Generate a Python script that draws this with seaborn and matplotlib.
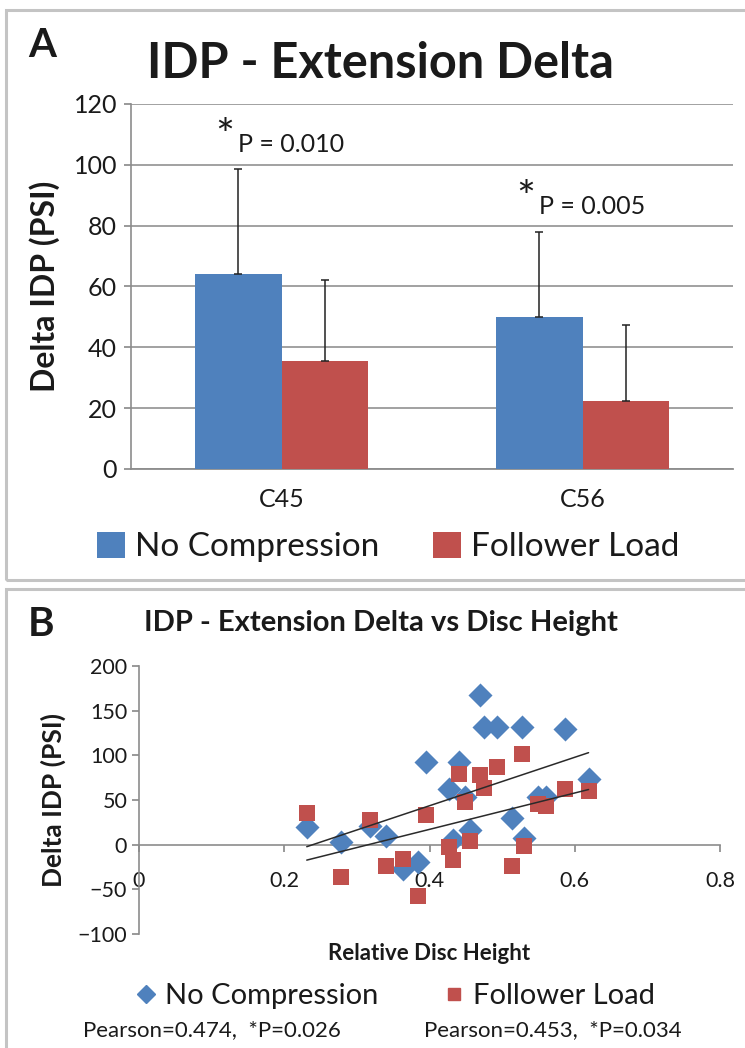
import numpy as np
import pandas as pd
import matplotlib
matplotlib.use("Agg")
import matplotlib.pyplot as plt
from matplotlib.patches import Rectangle, Patch
from matplotlib.lines import Line2D
import seaborn as sns

# ---- data -------------------------------------------------------------
levels = ["C45", "C56"]
conditions = ["No Compression", "Follower Load"]
mean_no_comp = [64.0, 50.0]
mean_follower = [35.5, 22.5]
sd_no_comp = [34.5, 28.0]
sd_follower = [26.5, 24.7]
p_labels = ["P = 0.010", "P = 0.005"]

disc_height = [0.231, 0.278, 0.318, 0.340, 0.363, 0.384, 0.395, 0.427,
               0.432, 0.440, 0.449, 0.456, 0.470, 0.475, 0.493, 0.513,
               0.528, 0.530, 0.549, 0.561, 0.586, 0.619]
delta_no_comp = [20, 3, 21, 10, -27, -19, 92, 62, 5, 93, 53, 16,
                 168, 132, 132, 30, 132, 7, 53, 53, 130, 74]
delta_follower = [35, -36, 28, -24, -16, -57, 33, -3, -17, 79, 48, 4,
                  78, 63, 87, -24, 101, -2, 46, 43, 62, 60]
pearson_labels = ["Pearson=0.474,  *P=0.026", "Pearson=0.453,  *P=0.034"]

BLUE = "#4F81BD"
RED = "#C0504D"
AXIS_GRAY = "#8C8C8C"
TEXT = "#1a1a1a"

sns.set_theme(style="white")
plt.rcParams["font.family"] = ["Lato", "DejaVu Sans"]

W, H = 745, 1048
fig = plt.figure(figsize=(W / 100, H / 100), dpi=100)


def fx(px):
    return px / W


def fy(py):
    return 1 - py / H


# panel frames
for top, bottom in [(10, 580), (589, 1060)]:
    fig.patches.append(Rectangle((fx(6), fy(bottom)), fx(800), (bottom - top) / H,
                                 transform=fig.transFigure, fill=False,
                                 edgecolor="#C4C4C4", linewidth=2.2))

# ---- panel A: grouped bars ---------------------------------------------
axA = fig.add_axes([fx(131), fy(469), fx(733 - 131), (469 - 104) / H])
bars = pd.DataFrame({
    "level": levels * 2,
    "cond": [conditions[0]] * 2 + [conditions[1]] * 2,
    "delta": mean_no_comp + mean_follower,
})
sns.barplot(data=bars, x="level", y="delta", hue="cond", hue_order=conditions,
            palette=[BLUE, RED], width=0.573, errorbar=None, saturation=1,
            legend=False, ax=axA, zorder=3)
for p in axA.patches:
    p.set_edgecolor("none")

errs = sd_no_comp + sd_follower
means = mean_no_comp + mean_follower
centers = [p.get_x() + p.get_width() / 2 for p in axA.patches[:4]]
for cx, m, e in zip(centers, means, errs):
    axA.errorbar(cx, m, yerr=[[0], [e]], fmt="none", ecolor="#222222",
                 elinewidth=1.1, capsize=3, capthick=1.1, zorder=4)

axA.set_ylim(0, 120)
axA.set_xlim(-0.5, 1.5)
axA.set_yticks(np.arange(0, 121, 20))
axA.yaxis.grid(True, color="#9A9A9A", linewidth=1.3, zorder=0)
axA.set_axisbelow(True)
for s in ["top", "right"]:
    axA.spines[s].set_visible(False)
axA.spines["left"].set_color(AXIS_GRAY)
axA.spines["bottom"].set_color(AXIS_GRAY)
axA.spines["left"].set_linewidth(1.2)
axA.spines["bottom"].set_linewidth(1.3)
axA.tick_params(axis="y", direction="out", length=5, color=AXIS_GRAY,
                labelsize=18, labelcolor=TEXT, pad=5, left=True)
axA.tick_params(axis="x", length=0, labelsize=18, labelcolor=TEXT, pad=14)
axA.set_xlabel("")
axA.set_ylabel("Delta IDP (PSI)", fontsize=23, fontweight="bold", color=TEXT,
               labelpad=10)

# significance marks above each pair
for i, lab in enumerate(p_labels):
    top = mean_no_comp[i] + sd_no_comp[i]
    axA.text(i - 0.19, top + 10.5, "*", ha="center", va="center",
             fontsize=32, color=TEXT)
    axA.text(i - 0.145, top + 8.2, lab, ha="left", va="center",
             fontsize=18, color=TEXT)

fig.text(fx(28), fy(45), "A", fontsize=29, fontweight="bold", color=TEXT,
         ha="left", va="center")
fig.text(fx(380), fy(63), "IDP - Extension Delta", fontsize=35,
         fontweight="bold", color=TEXT, ha="center", va="center")

legA = [Patch(facecolor=BLUE, edgecolor="none", label=conditions[0]),
        Patch(facecolor=RED, edgecolor="none", label=conditions[1])]
fig.legend(handles=legA, loc="center", bbox_to_anchor=(fx(388), fy(547)),
           ncol=2, frameon=False, fontsize=24, handlelength=0.85,
           handleheight=0.85, handletextpad=0.3, columnspacing=1.6,
           labelcolor=TEXT)

# ---- panel B: scatter with linear trends -------------------------------
axB = fig.add_axes([fx(139), fy(934), fx(720 - 139), (934 - 666) / H])
sns.scatterplot(x=disc_height, y=delta_no_comp, marker="D", color=BLUE,
                s=150, linewidth=0, ax=axB, zorder=3)
sns.scatterplot(x=disc_height, y=delta_follower, marker="s", color=RED,
                s=135, linewidth=0, ax=axB, zorder=3)
for ys in (delta_no_comp, delta_follower):
    sns.regplot(x=np.array(disc_height), y=np.array(ys), scatter=False,
                ci=None, truncate=True, ax=axB,
                line_kws=dict(color="#2a2a2a", linewidth=1.1, zorder=5))

axB.set_xlim(0, 0.8)
axB.set_ylim(-100, 200)
axB.set_xticks([0, 0.2, 0.4, 0.6, 0.8])
axB.set_xticklabels(["0", "0.2", "0.4", "0.6", "0.8"])
axB.set_yticks(np.arange(-100, 201, 50))
for s in ["top", "right"]:
    axB.spines[s].set_visible(False)
axB.spines["bottom"].set_position(("data", 0))
for s in ["left", "bottom"]:
    axB.spines[s].set_color(AXIS_GRAY)
    axB.spines[s].set_linewidth(1.2)
axB.tick_params(axis="both", direction="out", length=5, color=AXIS_GRAY,
                labelsize=15.5, labelcolor=TEXT, left=True, bottom=True)
axB.tick_params(axis="x", pad=14)
axB.set_xlabel("Relative Disc Height", fontsize=16, fontweight="bold",
               color=TEXT)
axB.xaxis.set_label_coords(0.5, -0.035)
axB.set_ylabel("Delta IDP (PSI)", fontsize=19, fontweight="bold", color=TEXT,
               labelpad=8)

fig.text(fx(28), fy(624), "B", fontsize=29, fontweight="bold", color=TEXT,
         ha="left", va="center")
fig.text(fx(381), fy(623), "IDP - Extension Delta vs Disc Height",
         fontsize=21, fontweight="bold", color=TEXT, ha="center", va="center")

legB = [Line2D([], [], marker="D", linestyle="none", color=BLUE,
               markersize=9, label=conditions[0]),
        Line2D([], [], marker="s", linestyle="none", color=RED,
               markersize=9, label=conditions[1])]
fig.legend(handles=legB, loc="center", bbox_to_anchor=(fx(396), fy(996)),
           ncol=2, frameon=False, fontsize=21, handlelength=0.6,
           handletextpad=0.35, columnspacing=2.3, labelcolor=TEXT)
fig.text(fx(212), fy(1030), pearson_labels[0], fontsize=16, color=TEXT,
         ha="center", va="center")
fig.text(fx(553), fy(1030), pearson_labels[1], fontsize=16, color=TEXT,
         ha="center", va="center")

fig.savefig("out.png", dpi=100, facecolor="white")
